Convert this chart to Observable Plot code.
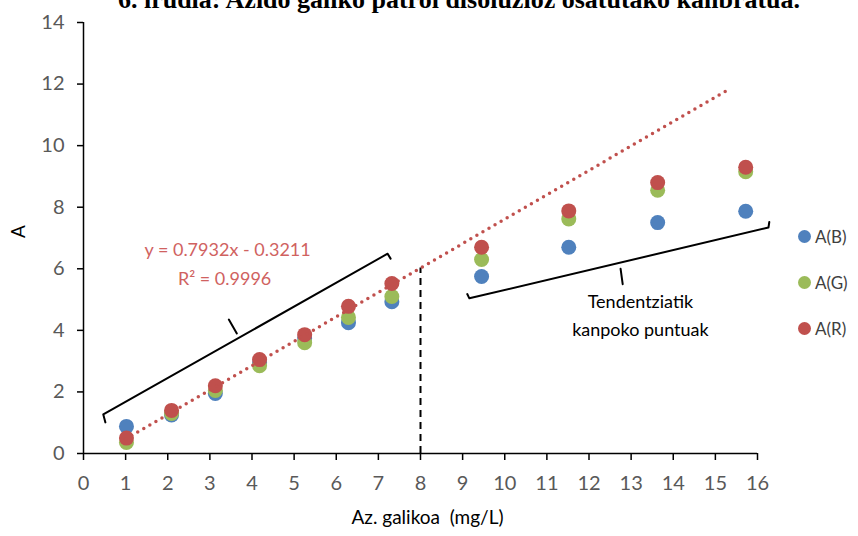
<!DOCTYPE html>
<html>
<head>
<meta charset="utf-8">
<script src="https://cdn.jsdelivr.net/npm/d3@7"></script>
<script src="https://cdn.jsdelivr.net/npm/@observablehq/plot@0.6"></script>
<style>
  html, body { margin: 0; padding: 0; background: #fff; overflow: hidden; }
  #wrap { position: relative; width: 858px; height: 536px; }
  #title { position: absolute; left: 30px; width: 858px; top: -14px; text-align: center;
    font-family: "Liberation Serif", serif; font-weight: bold; font-size: 26px; line-height: 28px; color: #000; white-space: nowrap; }
  .leg { position: absolute; left: 798px; font-family: Lato, "Open Sans", sans-serif; font-size: 17px; color: #404040; display: flex; align-items: center; }
  .leg span.dot { width: 13px; height: 13px; border-radius: 50%; display: inline-block; margin-right: 4px; }
</style>
</head>
<body>
<div id="wrap"></div>
<script>
// ---- data ----
const titleText = "6. irudia: Azido galiko patroi disoluzioz osatutako kalibratua.";
const concentrations = [1.02, 2.09, 3.13, 4.18, 5.25, 6.29, 7.32, 9.45, 11.52, 13.63, 15.72];
const seriesNames = ["A(B)", "A(G)", "A(R)"];
const seriesColors = ["#4F81BD", "#9BBB59", "#C0504D"];
const valuesB = [0.88, 1.25, 1.95, 2.95, 3.75, 4.25, 4.93, 5.75, 6.70, 7.50, 7.87];
const valuesG = [0.36, 1.30, 2.05, 2.85, 3.60, 4.42, 5.10, 6.30, 7.62, 8.55, 9.15];
const valuesR = [0.50, 1.40, 2.20, 3.05, 3.86, 4.78, 5.52, 6.70, 7.88, 8.80, 9.30];
const xTicks = d3.range(0, 17, 1);
const yTicks = d3.range(0, 15, 2);
const trendSlope = 0.7932, trendIntercept = -0.3211;
const trendRange = [1.0, 15.35];
const limitX = 8;
const eqLines = [
  {x: 3.42, y: 6.59, t: "y = 0.7932x - 0.3211"},
  {x: 3.35, y: 5.65, t: "R² = 0.9996"}
];
const noteLines = [
  {x: 13.22, y: 4.9, t: "Tendentziatik"},
  {x: 13.22, y: 3.99, t: "kanpoko puntuak"}
];
const bracketLeft = [[0.52, 1.01], [0.47, 1.27], [7.22, 6.49], [7.29, 6.33]];
const bracketLeftTick = [[3.64, 3.90], [3.45, 4.35]];
const bracketRight = [[9.11, 5.18], [9.16, 5.04], [16.26, 7.34], [16.28, 7.52]];
const bracketRightTick = [[12.75, 6.0], [12.80, 5.5]];

// ---- build ----
const series = [valuesB, valuesG, valuesR];
const points = series.flatMap((vals, si) => vals.map((v, i) => ({x: concentrations[i], y: v, s: seriesNames[si]})));
const trend = trendRange.map(x => ({x, y: trendSlope * x + trendIntercept}));
const toObj = a => a.map(([x, y]) => ({x, y}));
const font = "Lato, 'Open Sans', sans-serif";

const chart = Plot.plot({
  width: 858, height: 536,
  marginLeft: 83, marginRight: 101, marginTop: 22, marginBottom: 83,
  style: {fontFamily: font, fontSize: "20px", background: "transparent"},
  x: {domain: [0, 16]},
  y: {domain: [0, 14]},
  color: {domain: seriesNames, range: seriesColors},
  marks: [
    Plot.axisX({ticks: xTicks, tickSize: 7, tickPadding: 15, stroke: "#000", strokeWidth: 1.5, strokeOpacity: 1, fill: "#595959", label: null, fontSize: 20}),
    Plot.axisY({ticks: yTicks, tickSize: 6, tickPadding: 13, stroke: "#000", strokeWidth: 1.5, strokeOpacity: 1, fill: "#595959", label: null, fontSize: 20}),
    Plot.ruleY([0], {stroke: "#000", strokeWidth: 1.5}),
    Plot.ruleX([0], {stroke: "#000", strokeWidth: 1.5}),
    Plot.ruleX([limitX], {y1: 0, y2: trendSlope * limitX + trendIntercept, stroke: "#000", strokeWidth: 2, strokeDasharray: "7,5"}),
    Plot.line(toObj(bracketLeft), {x: "x", y: "y", stroke: "#000", strokeWidth: 2, curve: "linear"}),
    Plot.line(toObj(bracketLeftTick), {x: "x", y: "y", stroke: "#000", strokeWidth: 2}),
    Plot.line(toObj(bracketRight), {x: "x", y: "y", stroke: "#000", strokeWidth: 2, clip: false}),
    Plot.line(toObj(bracketRightTick), {x: "x", y: "y", stroke: "#000", strokeWidth: 2}),
    Plot.dot(points, {x: "x", y: "y", fill: "s", r: 7.5, stroke: "none"}),
    Plot.line(trend, {x: "x", y: "y", stroke: "#C0504D", strokeWidth: 3.5, strokeDasharray: "0,7", strokeLinecap: "round"}),
    Plot.text(eqLines, {x: "x", y: "y", text: "t", fill: "#D0625F", fontSize: 18}),
    Plot.text(noteLines, {x: "x", y: "y", text: "t", fill: "#000", fontSize: 18}),
    Plot.text(["A"], {frameAnchor: "left", dx: -65, rotate: -90, fill: "#000", fontSize: 19}),
    Plot.text(["Az. galikoa  (mg/L)"], {frameAnchor: "bottom", dx: 7, dy: 70, fill: "#000", fontSize: 19})
  ]
});

const wrap = document.getElementById("wrap");
wrap.appendChild(chart);
const t = document.createElement("div");
t.id = "title"; t.textContent = titleText;
wrap.appendChild(t);
const legendY = [237, 283, 329];
seriesNames.forEach((n, i) => {
  const d = document.createElement("div");
  d.className = "leg";
  d.style.top = (legendY[i] - 11) + "px";
  d.innerHTML = `<span class="dot" style="background:${seriesColors[i]}"></span>${n}`;
  wrap.appendChild(d);
});
</script>
</body>
</html>
